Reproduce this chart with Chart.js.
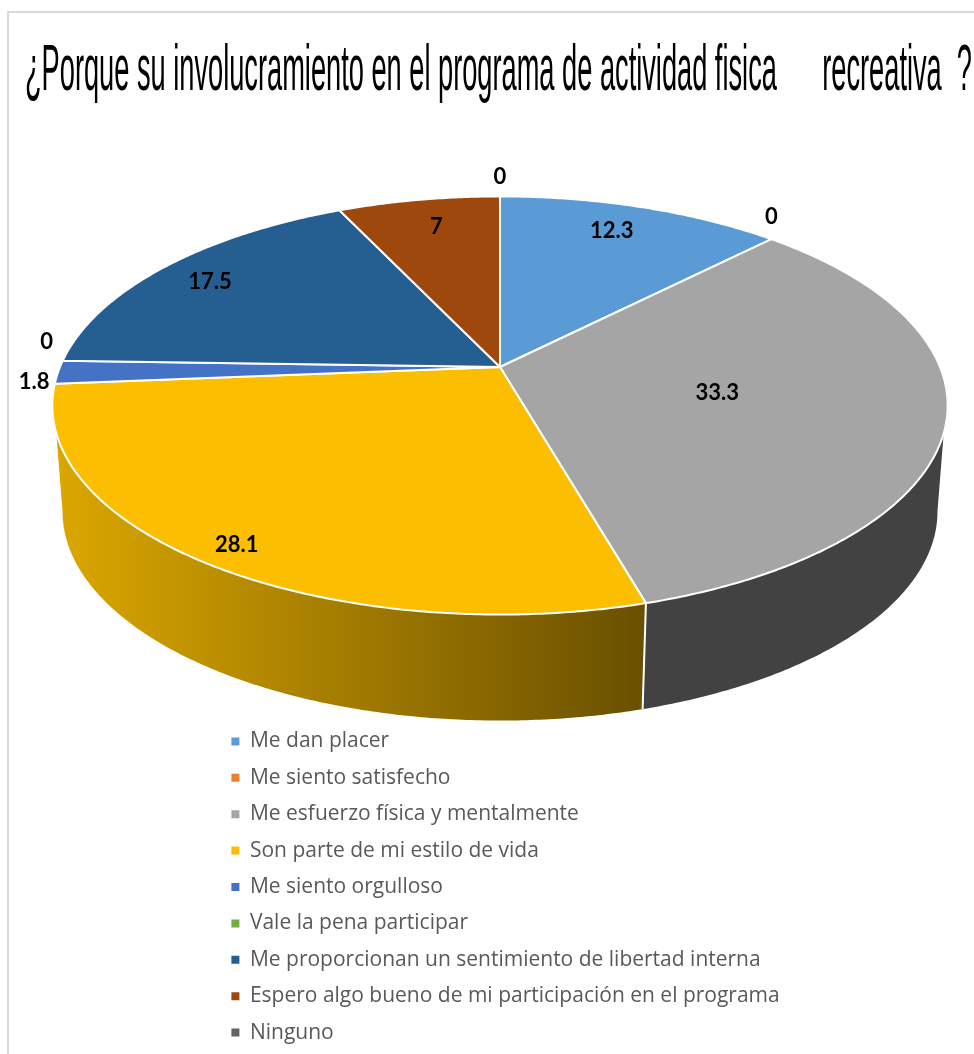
<!DOCTYPE html>
<html><head><meta charset="utf-8">
<style>html,body{margin:0;padding:0;background:#fff;overflow:hidden}canvas{display:block}</style>
<script src="https://cdn.jsdelivr.net/npm/chart.js@4/dist/chart.umd.js"></script>
</head><body>
<canvas id="c" width="974" height="1054"></canvas>
<script>
const titleText = '¿Porque su involucramiento en el programa de actividad fisica      recreativa  ?';
const categories = ['Me dan placer','Me siento satisfecho','Me esfuerzo física y mentalmente','Son parte de mi estilo de vida','Me siento orgulloso','Vale la pena participar','Me proporcionan un sentimiento de libertad interna','Espero algo bueno de mi participación en el programa','Ninguno'];
const values = [12.3,0,33.3,28.1,1.8,0,17.5,7,0];
const colors = ['#5B9BD5','#ED7D31','#A5A5A5','#FBBE00','#4472C4','#70AD47','#255E91','#9E480E','#636363'];
const sideStops = {2:['#424242','#424242'],3:['#DBA700','#6A5000']};
// radial fraction and pixel nudge of each value label
const labelR = [0.8,1,0.5,0.9,1,1,0.86,0.78,1];
const labelDX = [-5,0,-1,-2,-24,-16,1,2,0];
const labelDY = [-4,-22,1,5,10,-19,3,-5,-19];

const CX=500, TOP={cy:367,a:440,b:202,k:0.184}, BOT={cy:473,a:430,b:202,k:0.184};
const deg=Math.PI/180, FRONT=[108*deg,252*deg], BFRONT=[100.6*deg,259.4*deg];
function proj(p,t,r=1){const w=1+p.k*r*Math.cos(t);return [CX+p.a*r*Math.sin(t)/w,p.cy-p.b*r*Math.cos(t)/w];}
function arcPts(p,t0,t1){const n=Math.max(2,Math.ceil(Math.abs(t1-t0)/(0.5*deg)));const o=[];for(let i=0;i<=n;i++)o.push(proj(p,t0+(t1-t0)*i/n));return o;}
function trace(ctx,pts){ctx.beginPath();pts.forEach((q,i)=>i?ctx.lineTo(q[0],q[1]):ctx.moveTo(q[0],q[1]));ctx.closePath();}

const pie3d={id:'pie3d',
 beforeDraw(chart){const c=chart.ctx;c.save();c.fillStyle='#fff';c.fillRect(0,0,974,1054);c.fillStyle='#D9D9D9';c.fillRect(7,11,967,2);c.fillRect(7,11,2,1043);c.restore();},
 afterLayout(chart){const l=chart.legend;const w=l.width,h=l.height;l.left=216;l.right=216+w;l.top=715.5;l.bottom=715.5+h;l.adjustHitBoxes();},
 beforeDatasetDraw(chart,args){
  const c=chart.ctx, arcs=chart.getDatasetMeta(args.index).data;
  const ang=arcs.map(e=>[e.startAngle+Math.PI/2,e.endAngle+Math.PI/2]);
  c.save();
  // extruded side
  ang.forEach((a,i)=>{
   const lo=Math.max(a[0],FRONT[0]),hi=Math.min(a[1],FRONT[1]);
   if(hi<=lo||!sideStops[i])return;
   const bl=lo===FRONT[0]?BFRONT[0]:lo,bh=hi===FRONT[1]?BFRONT[1]:hi;
   const pts=arcPts(TOP,lo,hi).concat(arcPts(BOT,bh,bl));
   const g=c.createLinearGradient(55,0,642,0);g.addColorStop(0,sideStops[i][0]);g.addColorStop(1,sideStops[i][1]);
   trace(c,pts);c.fillStyle=g;c.fill();
  });
  // seams between side faces
  c.strokeStyle='#fff';c.lineWidth=2;
  ang.forEach(a=>{const t=a[1];if(t>FRONT[0]&&t<FRONT[1]&&a[1]>a[0]){const p=proj(TOP,t),q=proj(BOT,t);c.beginPath();c.moveTo(p[0],p[1]);c.lineTo(q[0],q[1]);c.stroke();}});
  // top face
  c.lineJoin='round';
  ang.forEach((a,i)=>{
   if(a[1]-a[0]<1e-6)return;
   trace(c,[[CX,TOP.cy]].concat(arcPts(TOP,a[0],a[1])));
   c.fillStyle=colors[i];c.fill();c.stroke();
  });
  // value labels
  c.fillStyle='#000';c.font='bold 22px Lato';c.textAlign='center';c.textBaseline='middle';
  ang.forEach((a,i)=>{const p=proj(TOP,(a[0]+a[1])/2,labelR[i]);c.fillText(String(values[i]),p[0]+labelDX[i],p[1]+labelDY[i]);});
  c.restore();
  return false;
 }};

new Chart(document.getElementById('c'),{
 type:'pie',
 data:{labels:categories,datasets:[{data:values,backgroundColor:colors,borderWidth:0}]},
 plugins:[pie3d],
 options:{responsive:false,animation:false,
  layout:{padding:{left:25,right:2,top:0,bottom:0}},
  plugins:{
   tooltip:{enabled:false},
   title:{display:true,text:titleText,color:'#000',padding:{top:34.5,bottom:0},font:{family:'"Liberation Sans"',size:65,weight:'normal',lineHeight:1.15}},
   legend:{display:true,position:'left',align:'start',maxWidth:720,onClick:null,
    labels:{boxWidth:8,boxHeight:8,padding:15.4,color:'#595959',font:{family:'"Open Sans"',size:21}}}
  }}
});
</script>
</body></html>
